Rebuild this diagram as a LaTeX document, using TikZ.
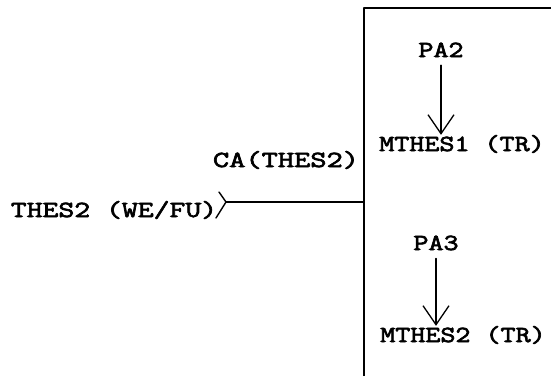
\documentclass[tikz,border=0pt]{standalone}
\usepackage{fontspec}
\usetikzlibrary{arrows.meta}
\newfontfamily\fA{Latin Modern Mono}[FakeStretch=1.27,FakeBold=3]
\newfontfamily\fB{Latin Modern Mono}[FakeStretch=1.34,FakeBold=3]
\newfontfamily\fC{Latin Modern Mono}[FakeStretch=1.37,FakeBold=3]
\tikzset{
  lbl/.style={inner sep=0pt, anchor=base, font=\fontsize{23}{26}\selectfont\fA},
  ln/.style={line width=1.4pt, line cap=round, line join=round},
  arr/.style={ln, -{Straight Barb[length=19pt, width=26pt, line width=1.3pt]}, shorten <=8pt}
}
\begin{document}
\begin{tikzpicture}[x=1pt,y=-1pt]
\useasboundingbox (0,0) rectangle (551,376);
% labels
\node[lbl, font=\fontsize{23}{26}\selectfont\fB] (thes) at (114,217) {THES2 (WE/FU)};
\node[lbl, font=\fontsize{23}{26}\selectfont\fC] (ca) at (286,167) {CA(THES2)};
\node[lbl] (pa2) at (441,57) {PA2};
\node[lbl] (m1) at (462,151) {MTHES1 (TR)};
\node[lbl] (pa3) at (436,250) {PA3};
\node[lbl] (m2) at (463,342) {MTHES2 (TR)};
% frame
\coordinate (vb) at (364,376);
\coordinate (vt) at (364,8);
\coordinate (tr) at (551,8);
\draw[ln, line cap=butt] (vb) -- (vt) -- (tr);
% fork and link
\coordinate (fork) at (226,202);
\coordinate (fu) at (219,192);
\coordinate (fl) at (216,218);
\draw[ln] (fu) -- (fork) -- (fl);
\draw[ln] (fork) -- (fork -| vt);
% arrows
\draw[arr] (pa2.south) -- (pa2.south |- m1.north);
\draw[arr] (pa3.south) -- (pa3.south |- m2.north);
\end{tikzpicture}
\end{document}
